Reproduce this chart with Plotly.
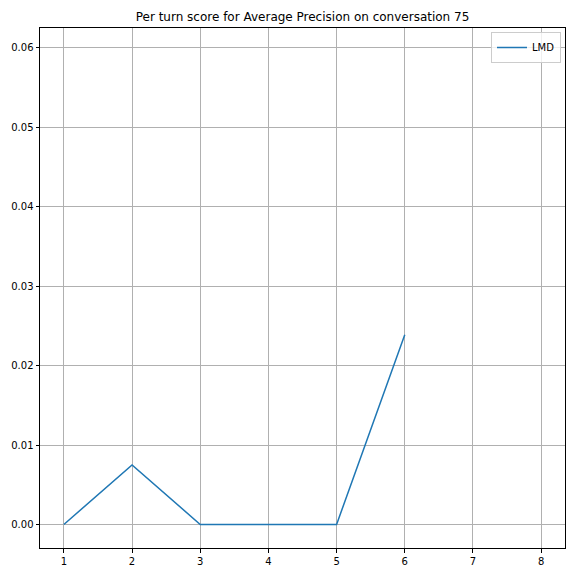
import plotly.graph_objects as go

turns = [1, 2, 3, 4, 5, 6, 7, 8]
lmd_scores = [0.0, 0.0075, 0.0, 0.0, 0.0, 0.0239, None, None]
x_ticks = [1, 2, 3, 4, 5, 6, 7, 8]
y_ticks = [0.00, 0.01, 0.02, 0.03, 0.04, 0.05, 0.06]

fig = go.Figure()
fig.add_trace(go.Scatter(x=turns, y=lmd_scores, mode="lines", name="LMD",
                         line=dict(color="#1f77b4", width=1.5), connectgaps=False))

axis_common = dict(showline=True, linecolor="black", linewidth=1, mirror=True,
                   showgrid=True, gridcolor="#b0b0b0", gridwidth=0.8,
                   ticks="outside", ticklen=3.5, tickcolor="black", tickwidth=1,
                   zeroline=False, automargin=False,
                   tickfont=dict(family="DejaVu Sans", size=10, color="black"))

fig.update_xaxes(range=[0.65, 8.35], tickvals=x_ticks, ticktext=[str(t) for t in x_ticks], **axis_common)
fig.update_yaxes(range=[-0.00296, 0.0625], tickvals=y_ticks,
                 ticktext=[f"{v:.2f}" for v in y_ticks], **axis_common)

W = 560
fig.update_layout(
    width=W, height=W,
    margin=dict(l=32, r=3, t=20, b=20, autoexpand=False),
    paper_bgcolor="white", plot_bgcolor="white",
    title=dict(text="Per turn score for Average Precision on conversation 75",
               x=0.5, xref="paper", xanchor="center", y=1 - 9 / W, yanchor="middle",
               font=dict(family="DejaVu Sans", size=12, color="black")),
    showlegend=True,
    legend=dict(x=1 - 4 / 525, y=1 - 4 / 520, xanchor="right", yanchor="top", itemwidth=30,
                tracegroupgap=0, bgcolor="rgba(255,255,255,0.8)", bordercolor="#cccccc", borderwidth=1,
                font=dict(family="DejaVu Sans", size=10, color="black")),
)

fig.write_html("out.html")
